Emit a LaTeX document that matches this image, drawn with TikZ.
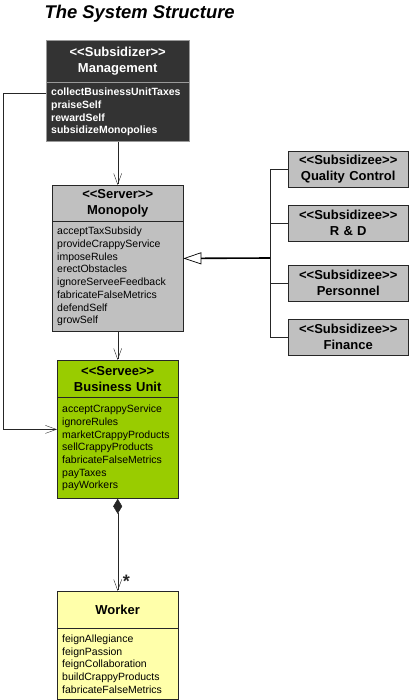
\documentclass[tikz,border=0pt]{standalone}
\usepackage{fontspec}
\setmainfont{Liberation Sans}[Ligatures=TeXOff]
\usetikzlibrary{arrows.meta,positioning}
\definecolor{mgmtgray}{HTML}{333333}
\definecolor{silver}{HTML}{C0C0C0}
\definecolor{lime}{HTML}{99CC00}
\definecolor{paleyellow}{HTML}{FFFFAA}

\begin{document}
\begin{tikzpicture}[
  x=1pt, y=-1pt,
  head/.style={
    draw=black!85, anchor=north west,
    inner xsep=5pt, inner ysep=0pt,
    align=center, font=\bfseries\fontsize{13}{16}\selectfont
  },
  ops/.style={
    draw=black!85,
    inner xsep=5pt, inner ysep=0pt,
    align=left, font=\fontsize{10.5}{12.7}\selectfont
  },
  dep/.style={-{Straight Barb[length=11pt,width=8pt]}, black!85},
  realize/.style={line width=1.6pt, -{Triangle[open,length=18pt,width=12pt,line width=0.7pt]}},
  tree/.style={black!85}
]
\useasboundingbox (0,0) rectangle (409,700);

% --- Title ---
\node[anchor=west, font=\bfseries\itshape\fontsize{18.4}{20}\selectfont] (title) at (41,14) {The System Structure};

% --- Management ---
\node[head, fill=mgmtgray, draw=black!40, text=white, text width=133pt, minimum height=42pt] (mgmt-h) at (46,40)
  {<{}<Subsidizer>{}>\\Management};
\node[ops, fill=mgmtgray, draw=black!40, text=white, font=\bfseries\fontsize{10.5}{12.7}\selectfont,
  text width=133pt, minimum height=59pt, below=0pt of mgmt-h] (mgmt-o)
  {collectBusinessUnitTaxes\\praiseSelf\\rewardSelf\\subsidizeMonopolies};

% --- Monopoly ---
\node[head, fill=silver, text width=121pt, minimum height=36pt] (mono-h) at (52,185)
  {<{}<Server>{}>\\Monopoly};
\node[ops, fill=silver, text width=121pt, minimum height=110pt, below=0pt of mono-h] (mono-o)
  {acceptTaxSubsidy\\provideCrappyService\\imposeRules\\erectObstacles\\ignoreServeeFeedback\\fabricateFalseMetrics\\defendSelf\\growSelf};

% --- Business Unit ---
\node[head, fill=lime, text width=111pt, minimum height=37pt] (bu-h) at (57,360)
  {<{}<Servee>{}>\\Business Unit};
\node[ops, fill=lime, text width=111pt, minimum height=101pt, below=0pt of bu-h] (bu-o)
  {acceptCrappyService\\ignoreRules\\marketCrappyProducts\\sellCrappyProducts\\fabricateFalseMetrics\\payTaxes\\payWorkers};

% --- Worker ---
\node[head, fill=paleyellow, text width=111pt, minimum height=37pt] (wkr-h) at (57,591)
  {Worker};
\node[ops, fill=paleyellow, text width=111pt, minimum height=71pt, below=0pt of wkr-h] (wkr-o)
  {feignAllegiance\\feignPassion\\feignCollaboration\\buildCrappyProducts\\fabricateFalseMetrics};

% --- Subsidizees (right) ---
\foreach \n/\lbl/\y in {qc/Quality Control/151, rd/R \& D/205, pers/Personnel/265, fin/Finance/319}
{
  \node[head, fill=silver, text width=110pt, minimum height=36pt] (sub-\n) at (288,\y)
    {<{}<Subsidizee>{}>\\\lbl};
}

% --- Connectors ---
\draw[dep] (mgmt-o.south) -- (mono-h.north);
\draw[dep] (mono-o.south) -- (bu-h.north);

\coordinate (mtax) at ([yshift=-11pt]mgmt-o.north west);
\coordinate (bumkt) at ([yshift=-32pt]bu-o.north west);
\draw[dep] (mtax) -- ++(-43,0) |- (bumkt);

\draw[tree] (sub-qc.west) -- ++(-18,0) |- (sub-fin.west);
\draw[tree] (sub-rd.west) -- ++(-18,0);
\draw[tree] (sub-pers.west) -- ++(-18,0);
\coordinate (monoR) at ([yshift=-37pt]mono-o.north east);
\coordinate (jn) at (270,258);
\draw[realize] (jn) -- (monoR);

\draw[black!85, {Diamond[length=15pt,width=9pt]}-{Straight Barb[length=11pt,width=8pt]}] (bu-o.south) -- (wkr-h.north)
  node[pos=0.9, anchor=west, xshift=5pt, inner sep=0pt, font=\bfseries\fontsize{18}{18}\selectfont] (many) {*};

\end{tikzpicture}
\end{document}
